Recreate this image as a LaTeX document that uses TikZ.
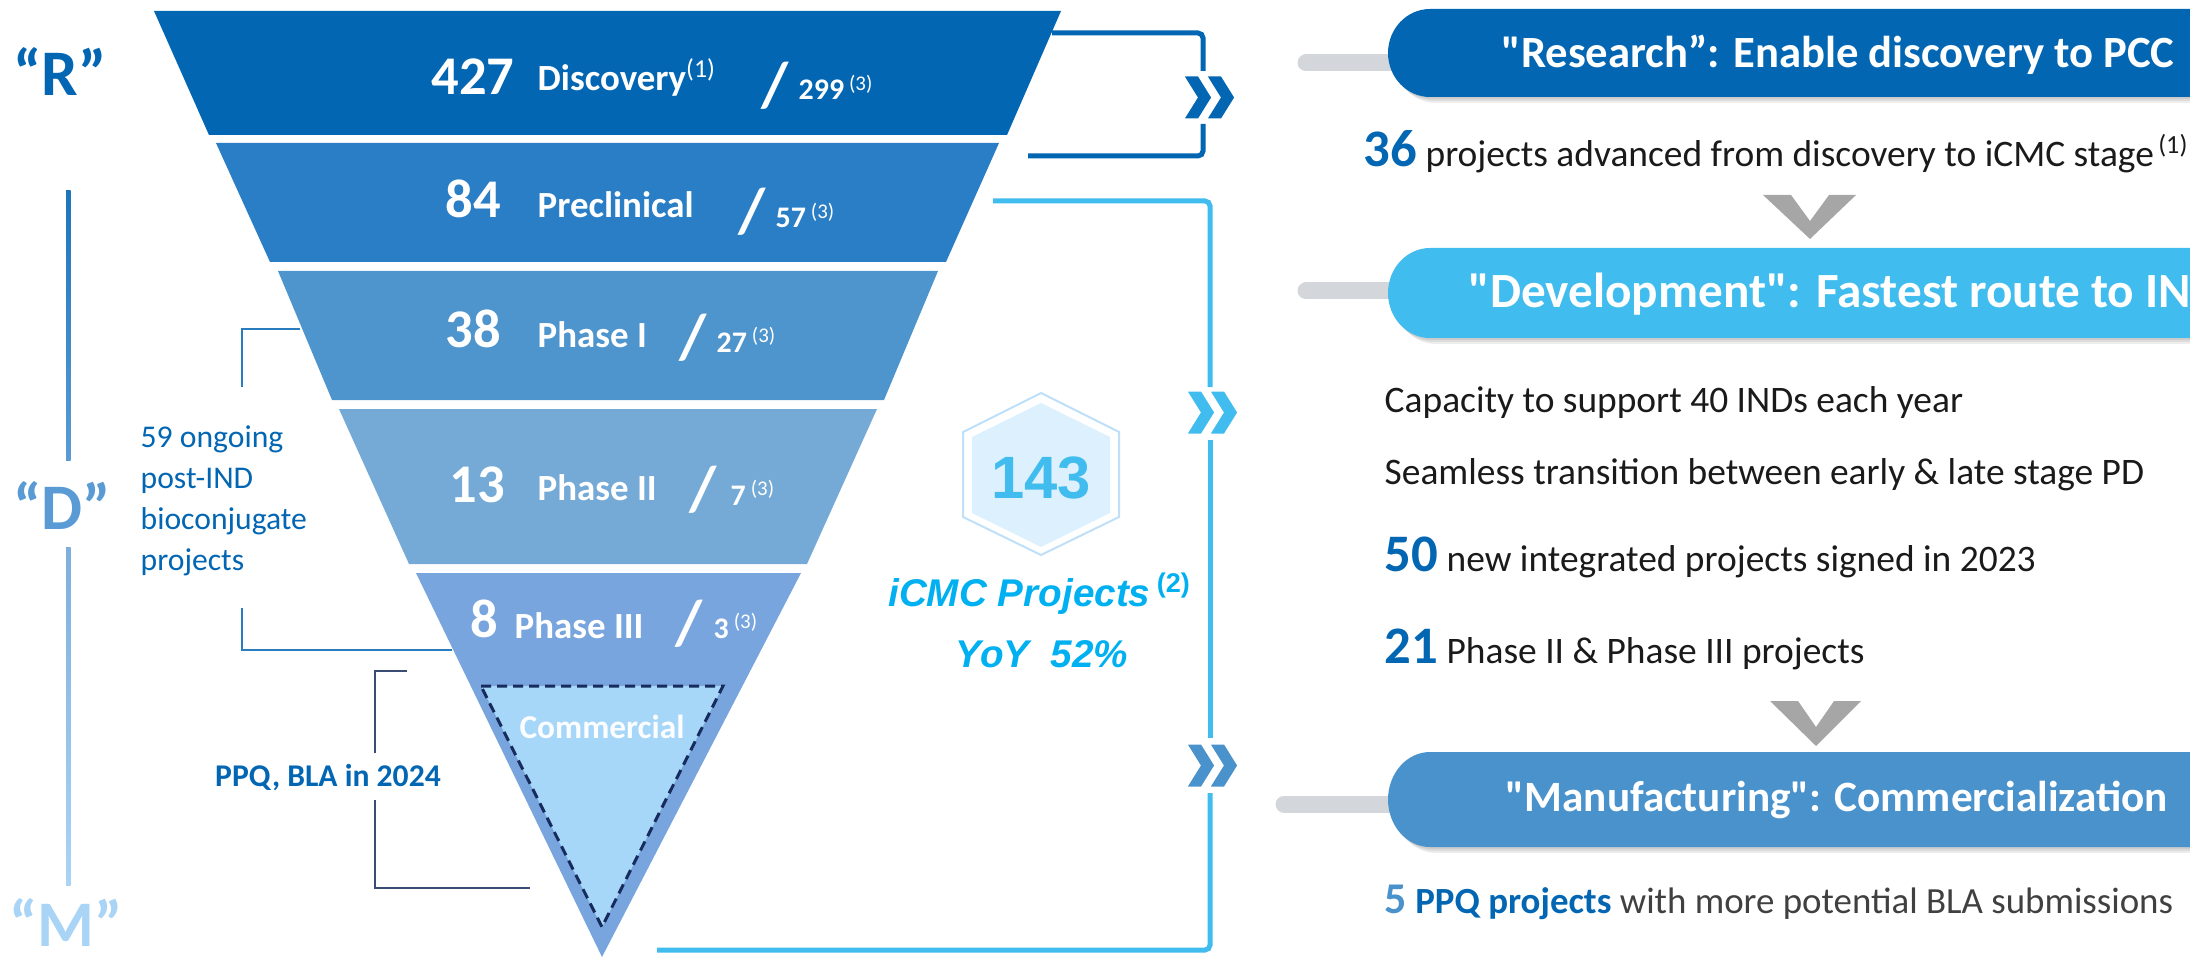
\documentclass[tikz,border=0pt]{standalone}
\usepackage{fontspec}
\setmainfont{Carlito}[Ligatures=TeXOff]
\newfontfamily\arialf{Liberation Sans}
\usetikzlibrary{positioning}

\definecolor{rblue}{HTML}{0366B3}
\definecolor{dblue}{HTML}{41BCEE}
\definecolor{mblue}{HTML}{4A92CC}
\definecolor{bandb}{HTML}{2A7EC5}
\definecolor{bandc}{HTML}{4E94CD}
\definecolor{bandd}{HTML}{75AAD6}
\definecolor{bande}{HTML}{78A5DD}
\definecolor{comfill}{HTML}{A6D6F8}
\definecolor{navy}{HTML}{172C5C}
\definecolor{dletter}{HTML}{5B9BD5}
\definecolor{mletter}{HTML}{A9D4F5}
\definecolor{stubgrey}{HTML}{D3D6DB}
\definecolor{vgrey}{HTML}{A6A6A6}
\definecolor{hexline}{HTML}{BFE0F8}
\definecolor{hexfill}{HTML}{DDF0FD}
\definecolor{icmc}{HTML}{00B0F0}
\definecolor{bodytext}{HTML}{1A1A1A}
\definecolor{greytext}{HTML}{404040}

\newcommand\fsz[1]{\fontsize{#1}{#1}\selectfont}
\newcommand\noteno[1]{\textsuperscript{\mdseries(#1)}}
\newcommand\bignum[1]{{\color{rblue}\bfseries\fsz{15}#1}}

% double chevron, #1/#2 = top left corner, #3 = colour
\newcommand\dchev[3]{%
  \foreach \o in {0,23}
    \filldraw[fill=#3, draw=white, line width=0.3mm] ({#1+\o},#2) -- ++(17,0) -- ++(14,22.5)
      -- ++(-14,22.5) -- ++(-17,0) -- ++(14,-22.5) -- cycle;}

% title bar, #1 = top, #2 = bottom, #3 = colour
\newcommand\pill[3]{%
  \foreach \s in {2,4,6}
    \fill[black, opacity=0.07] (1430+\s,#1+\s) -- (2300,#1+\s) -- (2300,#2+\s) -- (1430+\s,#2+\s)
      arc[start angle=270, end angle=90, x radius=4.2mm, y radius={(#2-#1)*0.05mm}] -- cycle;
  \fill[#3] (1430,#1) -- (2300,#1) -- (2300,#2) -- (1430,#2)
    arc[start angle=270, end angle=90, x radius=4.2mm, y radius={(#2-#1)*0.05mm}] -- cycle;}

\begin{document}
\begin{tikzpicture}[x=0.1mm, y=-0.1mm,
    num/.style={text=white, font=\bfseries\fsz{15.5}, anchor=base west, inner sep=0pt},
    stage/.style={text=white, font=\bfseries\fsz{10.5}, anchor=base west, inner sep=0pt},
    cnt/.style={text=white, font=\bfseries\fsz{8.5}, anchor=base west, inner sep=0pt},
    slash/.style={text=white, font=\bfseries\fsz{18}, inner sep=0pt},
    letter/.style={font=\bfseries\fsz{18.5}, inner sep=0pt},
    ongo/.style={draw=rblue!85, line width=0.2mm},
    ppq/.style={draw=navy!85, line width=0.2mm},
    rbr/.style={draw=rblue, line width=0.5mm, rounded corners=0.5mm},
    dbr/.style={draw=dblue, line width=0.5mm, rounded corners=0.5mm},
    stub/.style={draw=stubgrey, line width=1.7mm, line cap=round},
    title/.style={text=white, font=\bfseries\fsz{12.7}, inner sep=0pt},
    item/.style={text=bodytext, font=\fsz{10.65}, anchor=base west, inner sep=0pt}]
  \useasboundingbox (0,0) rectangle (2190,958);
  \clip (0,0) rectangle (2190,958);

  \fill[rblue] (154,11) -- (1061,11) -- (1007,135) -- (209,135) -- cycle;
  \fill[bandb] (216,143) -- (999,143) -- (946,262) -- (270,262) -- cycle;
  \fill[bandc] (278,271) -- (938,271) -- (884,400) -- (332,400) -- cycle;
  \fill[bandd] (339,409) -- (877,409) -- (807,564) -- (409,564) -- cycle;
  \fill[bande] (416,573) -- (801,573) -- (602,957) -- cycle;
  \filldraw[fill=comfill, draw=navy, line width=0.3mm, dash pattern=on 1mm off 0.6mm]
    (481,686) -- (723,686) -- (602,927) -- cycle;

  \node[num] (n1) at (431,95) {427};
  \node[stage] (s1) at (537,91) {Discovery\noteno{1}};
  \node[slash] (k1) at (775,86) {/};
  \node[cnt] (c1) at (798,100) {299\,\noteno{3}};

  \node[num] (n2) at (445,218) {84};
  \node[stage] (s2) at (537,218) {Preclinical};
  \node[slash] (k2) at (752,212) {/};
  \node[cnt] (c2) at (775,228) {57\,\noteno{3}};

  \node[num] (n3) at (445,347) {38};
  \node[stage] (s3) at (537,347) {Phase I};
  \node[slash] (k3) at (693,338) {/};
  \node[cnt] (c3) at (716,352) {27\,\noteno{3}};

  \node[num] (n4) at (449,502) {13};
  \node[stage] (s4) at (537,500) {Phase II};
  \node[slash] (k4) at (703,490) {/};
  \node[cnt] (c4) at (730,505) {7\,\noteno{3}};

  \node[num] (n5) at (470,637) {8};
  \node[stage] (s5) at (514,638) {Phase III};
  \node[slash] (k5) at (689,624) {/};
  \node[cnt] (c5) at (713,638) {3\,\noteno{3}};

  \node[text=white!95!comfill, font=\bfseries\fsz{9.5}, anchor=base, inner sep=0pt] (com) at (602,738) {Commercial};

  \node[letter, text=rblue] (r) at (60,72) {“R”};
  \node[letter, text=dletter] (d) at (62,505) {“D”};
  \node[letter, text=mletter] (m) at (66,922) {“M”};
  \shade[top color=rblue!90, bottom color=dletter] (66,191) rectangle (70.5,460);
  \shade[top color=dletter!80, bottom color=mletter] (66,547) rectangle (70.5,885);

  \coordinate (o1) at (300,329);
  \coordinate (o2) at (242,387);
  \coordinate (o3) at (242,608);
  \coordinate (o4) at (452,650);
  \draw[ongo] (o1) -| (o2);
  \draw[ongo] (o3) |- (o4);
  \node[text=rblue, font=\fontsize{9}{11.7}\selectfont, align=left, anchor=north west, inner sep=0pt]
    (ongoing) at (140,425) {59 ongoing\\post-IND\\bioconjugate\\projects};

  \coordinate (q1) at (407,671);
  \coordinate (q2) at (375,753);
  \coordinate (q3) at (375,800);
  \coordinate (q4) at (530,888);
  \draw[ppq] (q1) -| (q2);
  \draw[ppq] (q3) |- (q4);
  \node[text=rblue, font=\bfseries\fsz{9}] (bla) at (328,778) {PPQ, BLA in 2024};

  \coordinate (ra) at (1052,33);
  \coordinate (rb) at (1203,71);
  \coordinate (rc) at (1203,124);
  \coordinate (rd) at (1028,156);
  \draw[rbr] (ra) -| (rb);
  \draw[rbr] (rc) |- (rd);
  \coordinate (da) at (993,201);
  \coordinate (db) at (1210,387);
  \coordinate (dc) at (1210,440);
  \coordinate (dd) at (1210,738);
  \coordinate (de) at (1210,793);
  \coordinate (df) at (657,950);
  \draw[dbr] (da) -| (db);
  \draw[dbr] (dc) -- (dd);
  \draw[dbr] (de) |- (df);
  \dchev{1182}{75}{rblue}
  \dchev{1185}{390}{dblue}
  \dchev{1185}{743}{mblue}

  \filldraw[draw=hexline, line width=0.2mm, fill=white]
    (1041,393) -- (1119,432) -- (1119,517) -- (1041,555) -- (963,517) -- (963,432) -- cycle;
  \fill[hexfill] (1041,403) -- (1110,437) -- (1110,513) -- (1041,547) -- (972,513) -- (972,437) -- cycle;
  \node[text=dblue, font=\arialf\bfseries\fsz{17}] (tot) at (1041,478) {143};
  \node[text=icmc, font=\arialf\bfseries\itshape\fsz{11}] (icmc) at (1040,594) {iCMC Projects\,\textsuperscript{\upshape(2)}};
  \node[text=icmc, font=\arialf\bfseries\itshape\fsz{11}] (yoy) at (1042,654) {YoY\ \ 52\%};

  \coordinate (sr) at (1306,63);
  \coordinate (pr) at (1400,63);
  \draw[stub] (sr) -- (pr);
  \pill{9}{97}{rblue}
  \node[title] (res) at (1838,55) {"Research”: Enable discovery to PCC};

  \coordinate (sd) at (1306,291);
  \coordinate (pd) at (1400,291);
  \draw[stub] (sd) -- (pd);
  \pill{248}{338}{dblue}
  \node[title, font=\bfseries\fsz{14}, anchor=west] (dev) at (1468,294) {"Development": Fastest route to IND};

  \coordinate (sm) at (1284,804);
  \coordinate (pm) at (1400,804);
  \draw[stub] (sm) -- (pm);
  \pill{752}{847}{mblue}
  \node[title, font=\bfseries\fsz{12.3}] (man) at (1837,800) {"Manufacturing": Commercialization};

  \fill[vgrey] (1763,195) -- (1791,195) -- (1810,221) -- (1829,195) -- (1856,195) -- (1810,239) -- cycle;
  \fill[vgrey] (1770,701) -- (1798,701) -- (1816,727) -- (1834,701) -- (1861,701) -- (1816,746) -- cycle;

  \node[item] (t1) at (1363,167) {\bignum{36} projects advanced from discovery to iCMC stage\textsuperscript{\,(1)}};
  \node[item] (t2) at (1384,412) {Capacity to support 40 INDs each year};
  \node[item] (t3) at (1384,484) {Seamless transition between early \& late stage PD};
  \node[item] (t4) at (1384,571) {\bignum{50} new integrated projects signed in 2023};
  \node[item] (t5) at (1384,663) {\bignum{21} Phase II \& Phase III projects};
  \node[item, text=greytext, font=\fsz{10.5}] (t6) at (1384,913) {{\color{mblue}\bfseries\fsz{12.5}5} {\color{rblue}\bfseries PPQ projects} with more potential BLA submissions};
\end{tikzpicture}
\end{document}
